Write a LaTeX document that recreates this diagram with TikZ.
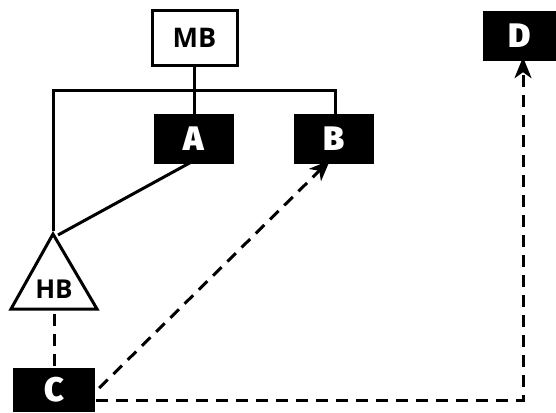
\documentclass[tikz,border=0pt]{standalone}
\usepackage{fontspec}
\setmainfont{Open Sans}
\newfontfamily\heavyfont{Fira Sans Black}
\usetikzlibrary{arrows.meta}
\begin{document}
\begin{tikzpicture}[x=1pt,y=-1pt,
  line/.style={line width=3pt},
  dline/.style={line width=3pt, dash pattern=on 12pt off 8pt},
  arr/.style={-{Stealth[length=21pt,width=17pt,inset=6pt]}},
  whitebox/.style={draw, line width=3pt, minimum width=85pt, minimum height=54pt, inner sep=0pt, font=\fontsize{27}{29}\selectfont\bfseries},
  blackbox/.style={fill=black, text=white, minimum width=80pt, minimum height=50pt, inner sep=0pt, font=\fontsize{34}{36}\selectfont\heavyfont}]
\useasboundingbox (0,0) rectangle (556,412);
\clip (0,0) rectangle (556,412);
\node[whitebox] (MB) at (194.5,38) {MB};
\node[blackbox] (A) at (194,139) {A};
\node[blackbox] (B) at (334,139) {B};
\node[blackbox, minimum width=82pt, minimum height=44pt] (C) at (54,390) {C};
\node[blackbox, minimum width=73pt] (D) at (519.5,36) {D};
% triangle HB
\coordinate (apex) at (53,234);
\coordinate (bl) at (11,309);
\coordinate (br) at (97,309);
\draw[line, line join=miter] (apex) -- (br) -- (bl) -- cycle;
\node[font=\fontsize{26}{28}\selectfont\bfseries, inner sep=0pt] (HB) at (54,289) {HB};
\coordinate (hbbot) at (54,314);
% tree lines
\coordinate (hl) at (53,90);
\coordinate (hr) at (335,90);
\draw[line] (MB.south) -- (MB.south |- hl);
\draw[line, line join=miter] (apex |- hl) ++(0,141) |- (hr) -- ([yshift=-3pt]B.north -| hr);
\draw[line] (A.north |- hl) -- (A.north);
\draw[line] ([xshift=-3pt,yshift=2pt]A.south) -- ([xshift=5pt,yshift=-1pt]apex);
% dashed
\draw[dline] (hbbot) -- ([yshift=-2pt]C.north -| hbbot);
\draw[dline, arr] ([xshift=4pt,yshift=2pt]C.east) -- ([xshift=-4pt,yshift=4pt]B.south);
\draw[dline, arr] ([xshift=1pt,yshift=-10pt]C.east) -| ([xshift=3.5pt,yshift=4pt]D.south);
\end{tikzpicture}
\end{document}
